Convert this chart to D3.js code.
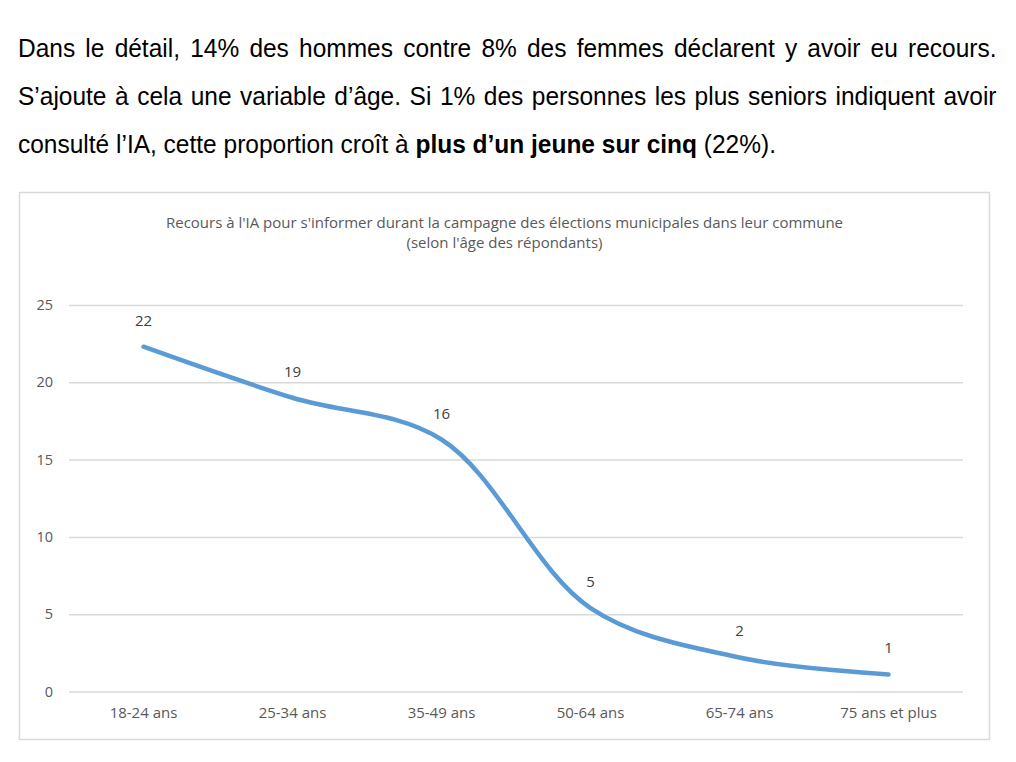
<!DOCTYPE html>
<html>
<head>
<meta charset="utf-8">
<script src="https://cdn.jsdelivr.net/npm/d3@7"></script>
<style>
  body { margin: 0; background: #fff; width: 1016px; height: 762px; overflow: hidden; }
  #texte {
    position: absolute; left: 18px; top: 24px; width: 1059px;
    transform: scaleX(0.924); transform-origin: 0 0;
    font-family: "Liberation Sans", Arial, sans-serif;
    font-size: 26.5px; line-height: 48.2px; color: #000;
  }
  #texte .l { text-align: justify; text-align-last: justify; white-space: nowrap; }
  #texte .d { text-align: left; }
  #chart { position: absolute; left: 0; top: 0; }
</style>
</head>
<body>
<div id="texte">
  <div class="l">Dans le détail, 14% des hommes contre 8% des femmes déclarent y avoir eu recours.</div>
  <div class="l">S’ajoute à cela une variable d’âge. Si 1% des personnes les plus seniors indiquent avoir</div>
  <div class="d">consulté l’IA, cette proportion croît à <b>plus d’un jeune sur cinq</b> (22%).</div>
</div>
<div id="chart"></div>
<script>
const categories = ["18-24 ans", "25-34 ans", "35-49 ans", "50-64 ans", "65-74 ans", "75 ans et plus"];
const values = [22.3, 19.0, 16.3, 5.4, 2.2, 1.1];
const yTicks = [0, 5, 10, 15, 20, 25];
const titleLines = [
  "Recours à l'IA pour s'informer durant la campagne des élections municipales dans leur commune",
  "(selon l'âge des répondants)"
];

const data = categories.map((c, i) => ({ cat: c, val: values[i] }));

const box = { x: 19.5, y: 192.5, w: 970, h: 547 };
const plot = { left: 69, right: 963, top: 305, bottom: 691.5 };

const svg = d3.select("#chart")
  .append("svg")
  .attr("width", 1016)
  .attr("height", 762);

svg.append("rect")
  .attr("x", box.x).attr("y", box.y)
  .attr("width", box.w).attr("height", box.h)
  .attr("fill", "#fff")
  .attr("stroke", "#d9d9d9")
  .attr("stroke-width", 1.5);

const font = "'Open Sans', 'Noto Sans', sans-serif";

svg.append("g")
  .selectAll("text")
  .data(titleLines)
  .enter()
  .append("text")
  .attr("x", box.x + box.w / 2)
  .attr("y", (d, i) => 228 + i * 20)
  .attr("text-anchor", "middle")
  .attr("font-family", font)
  .attr("font-size", 15)
  .attr("fill", "#595959")
  .text(d => d);

const x = d3.scaleBand()
  .domain(categories)
  .range([plot.left, plot.right]);

const y = d3.scaleLinear()
  .domain([0, 25])
  .range([plot.bottom, plot.top]);

// grille horizontale
const yAxis = svg.append("g")
  .attr("transform", `translate(${plot.left},0)`)
  .call(d3.axisLeft(y).tickValues(yTicks).tickSize(-(plot.right - plot.left)).tickPadding(16));
yAxis.select(".domain").remove();
yAxis.selectAll(".tick line").attr("stroke", "#d9d9d9").attr("stroke-width", 1.5);
yAxis.selectAll(".tick text")
  .attr("font-family", font)
  .attr("font-size", 14.5)
  .attr("fill", "#595959");

const xAxis = svg.append("g")
  .attr("transform", `translate(0,${plot.bottom})`)
  .call(d3.axisBottom(x).tickSize(0).tickPadding(16));
xAxis.select(".domain").remove();
xAxis.selectAll(".tick text")
  .attr("font-family", font)
  .attr("font-size", 15)
  .attr("fill", "#595959");

const line = d3.line()
  .x(d => x(d.cat) + x.bandwidth() / 2)
  .y(d => y(d.val))
  .curve(d3.curveCatmullRom.alpha(0.5));

svg.append("path")
  .datum(data)
  .attr("d", line)
  .attr("fill", "none")
  .attr("stroke", "#5b9bd5")
  .attr("stroke-width", 4.5)
  .attr("stroke-linecap", "round")
  .attr("stroke-linejoin", "round");

svg.append("g")
  .selectAll("text")
  .data(data)
  .enter()
  .append("text")
  .attr("x", d => x(d.cat) + x.bandwidth() / 2)
  .attr("y", d => y(d.val) - 21)
  .attr("text-anchor", "middle")
  .attr("font-family", font)
  .attr("font-size", 15)
  .attr("fill", "#404040")
  .text(d => Math.round(d.val));
</script>
</body>
</html>
